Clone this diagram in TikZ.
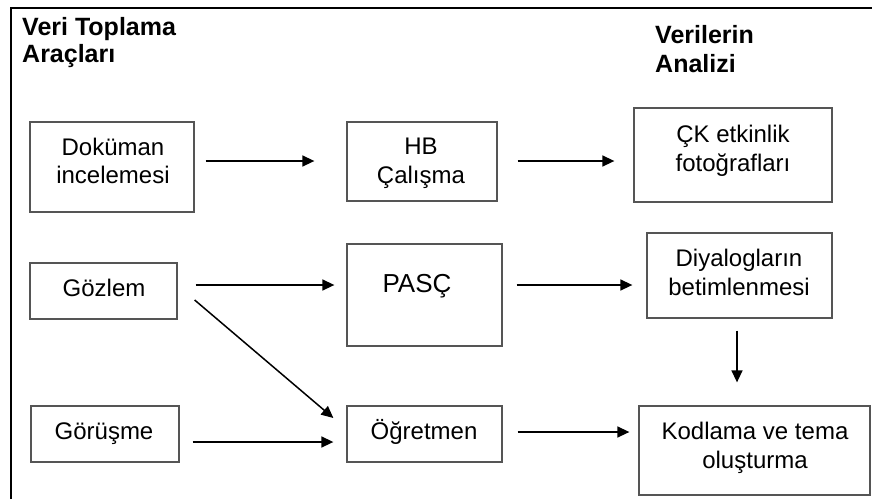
\documentclass[tikz,border=0pt]{standalone}
\usepackage{fontspec}
\setmainfont{Liberation Sans}
\usetikzlibrary{arrows.meta}
\definecolor{boxgray}{HTML}{555555}
\begin{document}
\begin{tikzpicture}[x=1pt,y=-1pt,
  box/.style={draw=boxgray, line width=1.3pt, inner sep=0pt},
  txt/.style={anchor=base, inner sep=0pt, font=\fontsize{24}{29}\selectfont},
  head/.style={anchor=base west, inner sep=0pt, font=\fontsize{25}{28}\selectfont\bfseries},
  arr/.style={line width=1.5pt, -{Triangle[length=12pt,width=11pt]}}]
\useasboundingbox (0,0) rectangle (872,499);

% outer frame (open to the right and bottom)
\draw[line width=2pt] (11,499) -- (11,8) -- (872,8);

% column headings
\node[head] (h1a) at (22,35) {Veri Toplama};
\node[head] (h1b) at (22,62) {Araçları};
\node[head] (h2a) at (655,43) {Verilerin};
\node[head] (h2b) at (655,72) {Analizi};

% boxes
\node[box, minimum width=164pt, minimum height=90pt] (dok) at (112,167) {};
\node[box, minimum width=150pt, minimum height=79pt] (hb) at (422,161.5) {};
\node[box, minimum width=198pt, minimum height=94pt] (ck) at (733,155) {};
\node[box, minimum width=147pt, minimum height=56pt] (goz) at (103.5,291) {};
\node[box, minimum width=155pt, minimum height=102pt] (pas) at (424.5,295) {};
\node[box, minimum width=185pt, minimum height=85pt] (diy) at (739.5,275.5) {};
\node[box, minimum width=148pt, minimum height=56pt] (gor) at (105,434) {};
\node[box, minimum width=155pt, minimum height=56pt] (ogr) at (424.5,434) {};
\node[box, minimum width=231pt, minimum height=89pt] (kod) at (754.5,450.5) {};

% box texts, one node per line at its baseline
\node[txt] (dok1) at (113,155) {Doküman};
\node[txt] (dok2) at (113,183) {incelemesi};
\node[txt] (hb1) at (421,154) {HB};
\node[txt] (hb2) at (421,183) {Çalışma};
\node[txt] (ck1) at (733,142) {ÇK etkinlik};
\node[txt] (ck2) at (733,171) {fotoğrafları};
\node[txt] (goz1) at (104,296) {Gözlem};
\node[txt, font=\fontsize{26}{30}\selectfont] (pas1) at (417,292) {PASÇ};
\node[txt] (diy1) at (739,266) {Diyalogların};
\node[txt] (diy2) at (739,295) {betimlenmesi};
\node[txt] (gor1) at (104,439) {Görüşme};
\node[txt] (ogr1) at (424,439) {Öğretmen};
\node[txt] (kod1) at (755,439) {Kodlama ve tema};
\node[txt] (kod2) at (755,468) {oluşturma};

% connectors
\draw[arr] ([xshift=11pt,yshift=6pt]dok.east) -- ([xshift=-32pt,yshift=0.5pt]hb.west);
\draw[arr] ([xshift=20pt,yshift=0.5pt]hb.east) -- ([xshift=-19pt,yshift=-6pt]ck.west);
\draw[arr] ([xshift=18pt,yshift=6pt]goz.east) -- ([xshift=-12pt,yshift=10pt]pas.west);
\draw[arr] ([xshift=17pt,yshift=-9pt]goz.east) -- ([xshift=-13pt,yshift=16pt]ogr.west);
\draw[arr] ([xshift=13pt,yshift=-8pt]gor.east) -- ([xshift=-13pt,yshift=-8pt]ogr.west);
\draw[arr] ([xshift=14pt,yshift=10pt]pas.east) -- ([xshift=-14pt,yshift=-9.5pt]diy.west);
\draw[arr] ([xshift=15pt,yshift=2pt]ogr.east) -- ([xshift=-9pt,yshift=18.5pt]kod.west);
\draw[arr] ([xshift=-2.5pt,yshift=-12pt]diy.south) -- ([xshift=-17.5pt,yshift=23pt]kod.north);
\end{tikzpicture}
\end{document}
